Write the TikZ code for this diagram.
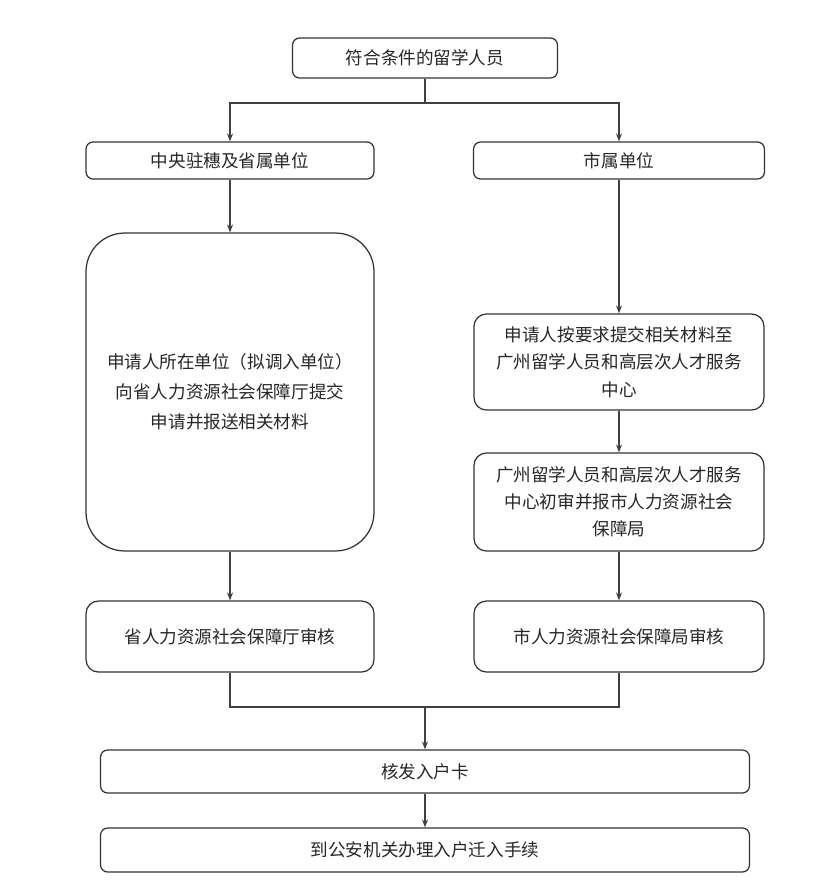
\documentclass[tikz,border=0pt]{standalone}
\usepackage{fontspec}
\setmainfont{Noto Sans CJK SC}
\usetikzlibrary{arrows.meta}
\tikzset{
  stepbox/.style={draw=black!80, line width=0.7pt, rounded corners=4pt, align=center,
    font=\fontsize{10pt}{15.5pt}\selectfont, text=black!85, inner sep=2pt},
  link/.style={draw=black!75, line width=0.7pt},
}
\begin{document}
\begin{tikzpicture}[x=0.02cm, y=-0.02cm, >={Stealth[length=4.5pt,width=3.4pt]}]
			\useasboundingbox (0,0) rectangle (832,894);
			% top
			\node[stepbox, minimum width=5.3cm, minimum height=0.8cm] (start) at (425,58) {符合条件的留学人员};
			% two branches
			\node[stepbox, minimum width=5.76cm, minimum height=0.74cm] (prov) at (230,160.5) {中央驻穗及省属单位};
			\node[stepbox, minimum width=5.82cm, minimum height=0.74cm] (city) at (619,160.5) {市属单位};
			\node[stepbox, rounded corners=22pt, minimum width=5.76cm, minimum height=6.36cm,
				font=\fontsize{10pt}{17pt}\selectfont] (provapply) at (230,392)
				{申请人所在单位（拟调入单位）\\向省人力资源社会保障厅提交\\申请并报送相关材料};
			\node[stepbox, rounded corners=7pt, minimum width=5.8cm, minimum height=1.92cm] (cityapply) at (619,362)
				{申请人按要求提交相关材料至\\广州留学人员和高层次人才服务\\中心};
			\node[stepbox, rounded corners=7pt, minimum width=5.8cm, minimum height=1.96cm] (cityfirst) at (619,502)
				{广州留学人员和高层次人才服务\\中心初审并报市人力资源社会\\保障局};
			\node[stepbox, rounded corners=7pt, minimum width=5.76cm, minimum height=1.42cm] (provcheck) at (230,636.5) {省人力资源社会保障厅审核};
			\node[stepbox, rounded corners=7pt, minimum width=5.8cm, minimum height=1.42cm] (citycheck) at (619,636.5) {市人力资源社会保障局审核};
			% bottom
			\node[stepbox, minimum width=12.98cm, minimum height=0.86cm] (card) at (425,771.5) {核发入户卡};
			\node[stepbox, minimum width=12.98cm, minimum height=0.88cm] (police) at (425,850) {到公安机关办理入户迁入手续};
			% connectors
			\coordinate (split) at (425,103);
			\coordinate (merge) at (425,707);
			\draw[link] (start) -- (split);
			\draw[link, ->] (split) -| (prov);
			\draw[link, ->] (split) -| (city);
			\draw[link, ->] (prov) -- (provapply);
			\draw[link, ->] (city) -- (cityapply);
			\draw[link, ->] (cityapply) -- (cityfirst);
			\draw[link, ->] (provapply) -- (provcheck);
			\draw[link, ->] (cityfirst) -- (citycheck);
			\draw[link] (provcheck) |- (merge);
			\draw[link] (citycheck) |- (merge);
			\draw[link, ->] (merge) -- (card);
			\draw[link, ->] (card) -- (police);
		\end{tikzpicture}
\end{document}
